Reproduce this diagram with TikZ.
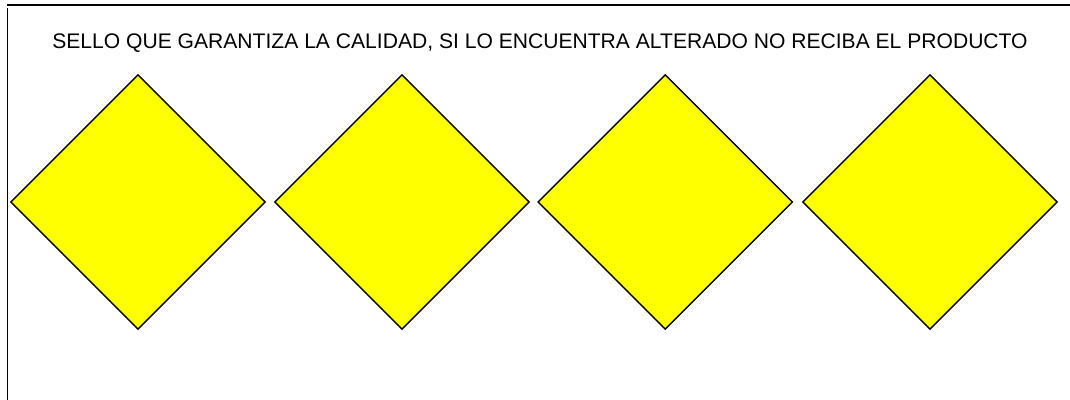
\documentclass[tikz,border=0pt]{standalone}
\usepackage{fontspec}
\setmainfont{Liberation Sans}
\usetikzlibrary{shapes.geometric, positioning}

\definecolor{amarillo}{RGB}{255,255,0}

\tikzset{
	sello/.style={diamond, draw=black, fill=amarillo, line width=1pt, inner sep=0pt, minimum width=6.37cm, minimum height=6.37cm},
	borde/.style={draw=black, line width=1.2pt}
}

\begin{document}
\begin{tikzpicture}
	\useasboundingbox (0,0) rectangle (26.75,10);

	\coordinate (TopL) at (0.17, 9.875);
	\coordinate (TopR) at (26.75, 9.875);
	\coordinate (LeftT) at (0.19, 9.8);
	\coordinate (LeftB) at (0.19, 0);
	\draw[borde] (TopL) -- (TopR);
	\draw[borde] (LeftT) -- (LeftB);

	\node (Aviso) at (13.5, 8.93) {\fontsize{15}{18}\selectfont SELLO QUE GARANTIZA LA CALIDAD, SI LO ENCUENTRA ALTERADO NO RECIBA EL PRODUCTO};

	\node[sello] (Sello1) at (3.45, 4.95) {};
	\node[sello] (Sello2) at (10.05, 4.95) {};
	\node[sello] (Sello3) at (16.63, 4.95) {};
	\node[sello] (Sello4) at (23.25, 4.95) {};
\end{tikzpicture}
\end{document}
